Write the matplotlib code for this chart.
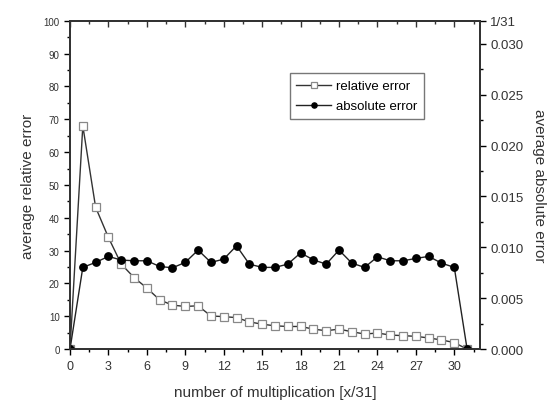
import matplotlib.pyplot as plt
from matplotlib.ticker import MultipleLocator, NullFormatter

plt.rcParams['font.family'] = ['Liberation Sans', 'DejaVu Sans']

# number of multiplication
x = list(range(0, 32))

# average relative error (left axis)
rel_err = [0, 68, 43.2, 34.0, 25.9, 21.8, 18.6, 15.0, 13.4, 13.0, 13.2,
           10.1, 9.9, 9.6, 8.3, 7.6, 7.1, 6.9, 6.9, 6.1, 5.6,
           6.1, 5.3, 4.6, 4.9, 4.3, 4.1, 3.9, 3.4, 2.8, 2.0, 0]

# average absolute error (right axis)
abs_err = [0, 0.00803, 0.00852, 0.00911, 0.00875, 0.00868, 0.00868, 0.00812,
           0.00799, 0.00852, 0.00973, 0.00852, 0.00884, 0.01015, 0.00835,
           0.00803, 0.00803, 0.00835, 0.00945, 0.00877, 0.00835, 0.00973,
           0.00845, 0.00803, 0.00907, 0.00868, 0.00868, 0.00891, 0.00911,
           0.00845, 0.00803, 0]

fig = plt.figure(figsize=(5.6, 4.1), dpi=100)
ax = fig.add_axes([0.125, 0.146, 0.732, 0.801])
ax2 = ax.twinx()

l1, = ax.plot(x, rel_err, color='#333333', lw=1.0, marker='s', ms=5.5,
              mfc='white', mec='#888888', mew=0.9, label='relative error')
l2, = ax2.plot(x, abs_err, color='#222222', lw=1.0, marker='o', ms=5.3,
               mfc='black', mec='black', label='absolute error')

ax.set_xlim(0, 32)
ax.set_ylim(0, 100)
ax2.set_ylim(0, 1 / 31)

ax.xaxis.set_major_locator(MultipleLocator(3))
ax.xaxis.set_minor_locator(MultipleLocator(1.5))
ax.yaxis.set_major_locator(MultipleLocator(10))
ax.yaxis.set_minor_locator(MultipleLocator(5))

# top axis: ticks pointing inward, no labels
top = ax.secondary_xaxis('top')
top.xaxis.set_major_locator(MultipleLocator(3))
top.xaxis.set_minor_locator(MultipleLocator(1.5))
top.xaxis.set_major_formatter(NullFormatter())
top.tick_params(which='major', direction='in', length=4, width=1,
                color='#333333')
top.tick_params(which='minor', direction='in', length=2.5, width=1,
                color='#333333')
top.spines['top'].set_linewidth(1.3)
top.spines['top'].set_color('#333333')

ticks2 = [0, 0.005, 0.010, 0.015, 0.020, 0.025, 0.030, 1 / 31]
ax2.set_yticks(ticks2)
ax2.set_yticklabels(['0.000', '0.005', '0.010', '0.015', '0.020', '0.025',
                     '0.030', '1/31'])
ax2.yaxis.set_minor_locator(MultipleLocator(0.0025))

ax.tick_params(axis='x', which='both', direction='out', labelsize=9,
               labelcolor='#333333')
ax.tick_params(axis='x', which='major', length=4, width=1)
ax.tick_params(axis='x', which='minor', length=2.5, width=1)
ax.tick_params(axis='y', which='major', direction='out', length=4, width=1,
               labelsize=7, labelcolor='#333333')
ax.tick_params(axis='y', which='minor', direction='out', length=2.5, width=1)
ax2.tick_params(axis='y', which='major', direction='out', length=4, width=1,
                labelsize=9.5, labelcolor='#333333')
ax2.tick_params(axis='y', which='minor', direction='out', length=2.5, width=1)

for a in (ax, ax2):
    for s in a.spines.values():
        s.set_linewidth(1.3)
        s.set_color('#333333')

ax.set_xlabel('number of multiplication [x/31]', fontsize=11, labelpad=10,
              color='#333333')
ax.set_ylabel('average relative error', fontsize=11, labelpad=6,
              color='#333333')
ax2.set_ylabel('average absolute error', fontsize=11, rotation=270,
               labelpad=16, color='#333333')

leg = ax.legend(handles=[l1, l2], loc='upper left',
                bbox_to_anchor=(0.52, 0.86), fontsize=9.5, frameon=True,
                fancybox=False, edgecolor='#555555', markerscale=0.7,
                handlelength=2.6, handletextpad=0.4, borderpad=0.5,
                labelspacing=0.6)
leg.get_frame().set_linewidth(1.0)

fig.savefig('out.png', dpi=100)
